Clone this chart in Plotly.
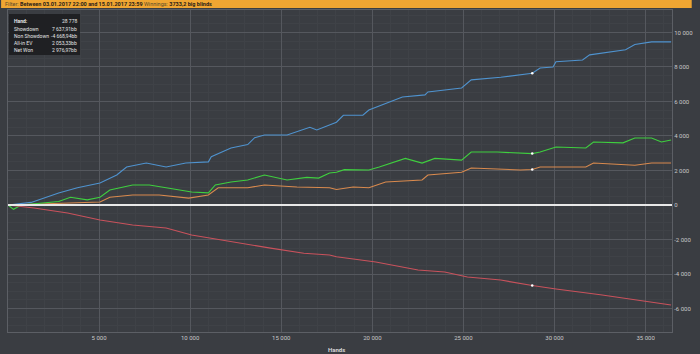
import plotly.graph_objects as go

# ---- data (hands, big blinds) ----
showdown_x = [0, 1270, 2780, 3810, 5050, 5970, 6510, 7590, 8680, 9760, 11000, 11160, 12240, 13160, 13540,
              14080, 15320, 16570, 16950, 17650, 18030, 18410, 19480, 19810, 21650, 22890, 23050, 24900,
              25430, 27050, 28778, 29210, 29920, 30080, 31540, 31930, 33900, 34410, 35330, 36400]
showdown_y = [0, 150, 700, 1000, 1270, 1740, 2200, 2430, 2200, 2430, 2500, 2800, 3300, 3500, 3900,
              4060, 4060, 4500, 4350, 4640, 4800, 5200, 5200, 5500, 6260, 6380, 6550, 6780,
              7250, 7400, 7637.91, 7940, 8000, 8300, 8400, 8700, 9000, 9300, 9450, 9450]

netwon_x = [0, 300, 730, 2780, 3430, 4350, 5050, 5590, 6840, 7760, 8680, 10080, 11000, 11380, 12240,
            13160, 14080, 15320, 16400, 17050, 17650, 18030, 18460, 19110, 19810, 20380, 21810, 22730,
            23430, 24900, 25430, 26860, 28460, 28778, 29210, 30080, 31720, 32140, 33760, 34410, 35330,
            35870, 36400]
netwon_y = [0, -250, 0, 200, 450, 300, 450, 870, 1160, 1160, 1000, 750, 700, 1160, 1330,
            1450, 1740, 1450, 1600, 1560, 1850, 1900, 2050, 2030, 2030, 2200, 2700, 2430,
            2700, 2600, 3070, 3070, 3000, 2976.97, 3070, 3360, 3300, 3650, 3600, 3880, 3880,
            3650, 3770]

allin_x = [0, 2780, 4140, 5050, 5590, 6840, 8300, 9920, 11000, 11540, 13160, 14080, 15860, 16950,
           17650, 18030, 18950, 19810, 20730, 22730, 23050, 24900, 25430, 28130, 28778, 29210, 31720,
           32140, 34410, 35330, 36400]
allin_y = [0, 100, 170, 170, 450, 580, 580, 400, 580, 1000, 1000, 1160, 1040, 1000,
           1000, 900, 1040, 1000, 1330, 1450, 1740, 1900, 2140, 2030, 2053.33, 2200, 2200,
           2430, 2300, 2430, 2430]

nonsd_x = [0, 1430, 3270, 5050, 6840, 8680, 10080, 12240, 14410, 16240, 17650, 18030, 20190, 22510,
           23970, 25220, 27050, 28778, 30080, 32520, 34410, 36400]
nonsd_y = [0, -170, -460, -870, -1160, -1330, -1740, -2140, -2500, -2800, -2900, -3000, -3300, -3770,
           -3880, -4170, -4350, -4668.94, -4870, -5200, -5500, -5800]

hover_hand = 28778
hover_labels = ["Showdown", "Non Showdown", "All-in EV", "Net Won"]
hover_values = [7637.91, -4668.94, 2053.33, 2976.97]
hover_texts = ["7 637,91bb", "-4 668,94bb", "2 053,33bb", "2 976,97bb"]

x_tickvals = [5000, 10000, 15000, 20000, 25000, 30000, 35000]
x_ticktext = ["5 000", "10 000", "15 000", "20 000", "25 000", "30 000", "35 000"]
y_tickvals = [-6000, -4000, -2000, 0, 2000, 4000, 6000, 8000, 10000]
y_ticktext = ["-6 000", "-4 000", "-2 000", "0", "2 000", "4 000", "6 000", "8 000", "10 000"]

header = ("<span style='color:#5a4a2a'>Filter:</span> <b>Between 03.01.2017 22:00 and 15.01.2017 23:59</b> "
          "<span style='color:#5a4a2a'>Winnings:</span> <b>3733,2 big blinds</b>")

BG = "#3a3d42"
FONT = "Roboto"

fig = go.Figure()
series = [
    (showdown_x, showdown_y, "#4f93cf", "Showdown"),
    (allin_x, allin_y, "#d98a4e", "All-in EV"),
    (netwon_x, netwon_y, "#3fcf3f", "Net Won"),
    (nonsd_x, nonsd_y, "#c9525c", "Non Showdown"),
]
for xs, ys, col, name in series:
    fig.add_trace(go.Scatter(x=xs, y=ys, mode="lines", name=name,
                             line=dict(color=col, width=1.1), hoverinfo="skip"))

fig.add_trace(go.Scatter(x=[hover_hand] * len(hover_values), y=hover_values, mode="markers",
                         marker=dict(color="white", size=2.5), hoverinfo="skip", showlegend=False))

fig.update_layout(
    width=700, height=354,
    margin=dict(l=7, r=20, t=10, b=22),
    paper_bgcolor=BG, plot_bgcolor=BG,
    showlegend=False,
    font=dict(family=FONT, size=6, color="#c8c8c8"),
    xaxis=dict(range=[0, 36450], tickvals=x_tickvals, ticktext=x_ticktext,
               showgrid=True, gridcolor="#55585e", gridwidth=1,
               minor=dict(dtick=1000, showgrid=True, gridcolor="#3f4247"),
               showline=True, linecolor="#5c5f65", mirror=True, zeroline=False,
               ticks="", tickfont=dict(size=6, color="#c8c8c8")),
    yaxis=dict(range=[-7360, 11300], side="right", tickvals=y_tickvals, ticktext=y_ticktext,
               showgrid=True, gridcolor="#55585e", gridwidth=1,
               minor=dict(dtick=500, showgrid=True, gridcolor="#3f4247"),
               showline=True, linecolor="#5c5f65", mirror=True,
               zeroline=False, ticks="", tickfont=dict(size=6, color="#c8c8c8")),
)

# zero line
fig.add_shape(type="line", xref="paper", yref="y", x0=0, x1=1, y0=0, y1=0,
              line=dict(color="#e8e8e8", width=2), layer="above")

# header band
fig.add_shape(type="rect", xref="paper", yref="paper", x0=-0.0104, x1=1.0297, y0=1.006, y1=1.0311,
              fillcolor="#f0a632", line=dict(width=0), layer="above")
fig.add_annotation(xref="paper", yref="paper", x=-0.0075, y=1.0186, xanchor="left", yanchor="middle",
                   text=header, showarrow=False, font=dict(family=FONT, size=5.5, color="#2a2218"))

# hover box
fig.add_shape(type="rect", xref="paper", yref="paper", x0=0.0015, x1=0.1085, y0=0.8605, y1=0.9875,
              fillcolor="#1f2023", line=dict(width=0), layer="above")
rows_y = [0.966, 0.9425, 0.9195, 0.8975, 0.876]
fig.add_annotation(xref="paper", yref="paper", x=0.0055, y=rows_y[0], xanchor="left", yanchor="middle",
                   text="<b>Hand:</b>", showarrow=False, font=dict(family=FONT, size=5, color="#e6e6e6"))
fig.add_annotation(xref="paper", yref="paper", x=0.107, y=rows_y[0], xanchor="right", yanchor="middle",
                   text="28 778", showarrow=False, font=dict(family=FONT, size=5, color="#e6e6e6"))
for lab, txt, yy in zip(hover_labels, hover_texts, rows_y[1:]):
    fig.add_annotation(xref="paper", yref="paper", x=0.0055, y=yy, xanchor="left", yanchor="middle",
                       text=lab, showarrow=False,
                       font=dict(family=FONT, size=5, color="#e6e6e6"))
    fig.add_annotation(xref="paper", yref="paper", x=0.107, y=yy, xanchor="right", yanchor="middle",
                       text=txt, showarrow=False, font=dict(family=FONT, size=5, color="#e6e6e6"))

# x axis title
fig.add_annotation(xref="paper", yref="paper", x=0.495, y=-0.053, xanchor="center", yanchor="middle",
                   text="<b>Hands</b>", showarrow=False, font=dict(family=FONT, size=6, color="#d8d8d8"))

fig.write_html("out.html")
